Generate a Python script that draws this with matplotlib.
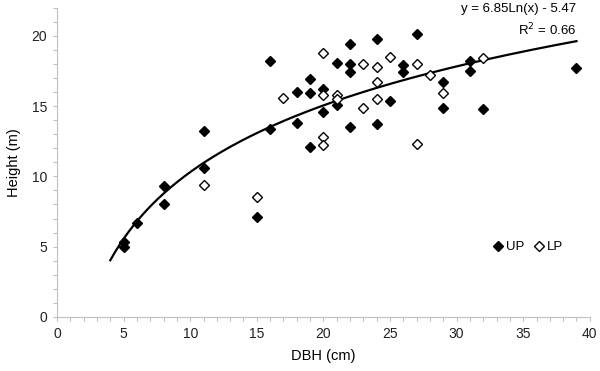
import numpy as np
import matplotlib
matplotlib.use("Agg")
import matplotlib.pyplot as plt
from matplotlib.lines import Line2D

plt.rcParams['font.family'] = ['Liberation Sans', 'DejaVu Sans']

# ---- data ----
up_dbh = [5, 5, 6, 8, 8, 11, 11, 15, 16, 16, 18, 18, 19, 19, 19, 20, 20,
          21, 21, 22, 22, 22, 22, 24, 24, 25, 26, 26, 27, 29, 29, 31, 31, 32, 39]
up_height = [5.3, 5.0, 6.7, 9.3, 8.0, 10.6, 13.2, 7.1, 18.2, 13.4, 16.0, 13.8,
             16.9, 15.9, 12.1, 16.2, 14.6, 18.1, 15.1, 19.4, 18.0, 17.4, 13.5,
             19.8, 13.7, 15.4, 17.9, 17.4, 20.1, 16.7, 14.9, 18.2, 17.5, 14.8, 17.7]

lp_dbh = [11, 15, 17, 20, 20, 20, 20, 21, 21, 23, 23, 24, 24, 24, 25,
          27, 27, 28, 29, 32]
lp_height = [9.4, 8.5, 15.6, 18.8, 15.8, 12.8, 12.2, 15.8, 15.5, 18.0, 14.9,
             17.8, 16.7, 15.5, 18.5, 18.0, 12.3, 17.2, 15.9, 18.4]

fit_a, fit_b = 6.85, -5.47
fit_range = (4, 39)

axis_grey = '#bfbfbf'
msize = 5.0

fig = plt.figure(figsize=(6.0, 3.71), dpi=100)
ax = fig.add_axes([0.095, 0.146, 0.888, 0.833])

ax.plot(up_dbh, up_height, linestyle='none', marker='D', markersize=msize,
        markerfacecolor='black', markeredgecolor='black', zorder=3)
ax.plot(lp_dbh, lp_height, linestyle='none', marker='D', markersize=msize,
        markerfacecolor='white', markeredgecolor='black', markeredgewidth=1.0, zorder=3)

xs = np.linspace(fit_range[0], fit_range[1], 200)
ax.plot(xs, fit_a * np.log(xs) + fit_b, color='black', linewidth=1.6, zorder=2)

ax.set_xlim(0, 40)
ax.set_ylim(0, 22)
ax.set_xticks(np.arange(0, 41, 5))
ax.set_xticks(np.arange(0, 41, 1), minor=True)
ax.set_yticks(np.arange(0, 21, 5))
ax.set_yticks(np.arange(0, 23, 1), minor=True)

for side in ['top', 'right']:
    ax.spines[side].set_visible(False)
for side in ['left', 'bottom']:
    ax.spines[side].set_color(axis_grey)
    ax.spines[side].set_linewidth(0.8)

ax.tick_params(which='both', direction='out', color=axis_grey, width=0.8, length=3)
ax.tick_params(axis='both', labelsize=10, labelcolor='#222222', pad=4)

ax.set_xlabel('DBH (cm)', fontsize=10.5, labelpad=6)
ax.set_ylabel('Height (m)', fontsize=10.5, labelpad=8)

ax.text(0.975, 1.015, 'y = 6.85Ln(x) - 5.47', transform=ax.transAxes,
        ha='right', va='top', fontsize=9.5)
ax.text(0.975, 0.955, r'R$^2$ = 0.66', transform=ax.transAxes,
        ha='right', va='top', fontsize=9.5)

handles = [
    Line2D([0], [0], linestyle='none', marker='D', markersize=msize,
           markerfacecolor='black', markeredgecolor='black', label='UP'),
    Line2D([0], [0], linestyle='none', marker='D', markersize=msize,
           markerfacecolor='white', markeredgecolor='black', label='LP'),
]
ax.legend(handles=handles, loc='center', bbox_to_anchor=(0.882, 0.225), ncol=2,
          frameon=False, fontsize=9.5, handletextpad=0.1, columnspacing=0.6,
          handlelength=1.0)

fig.savefig('out.png', dpi=100, facecolor='white')
